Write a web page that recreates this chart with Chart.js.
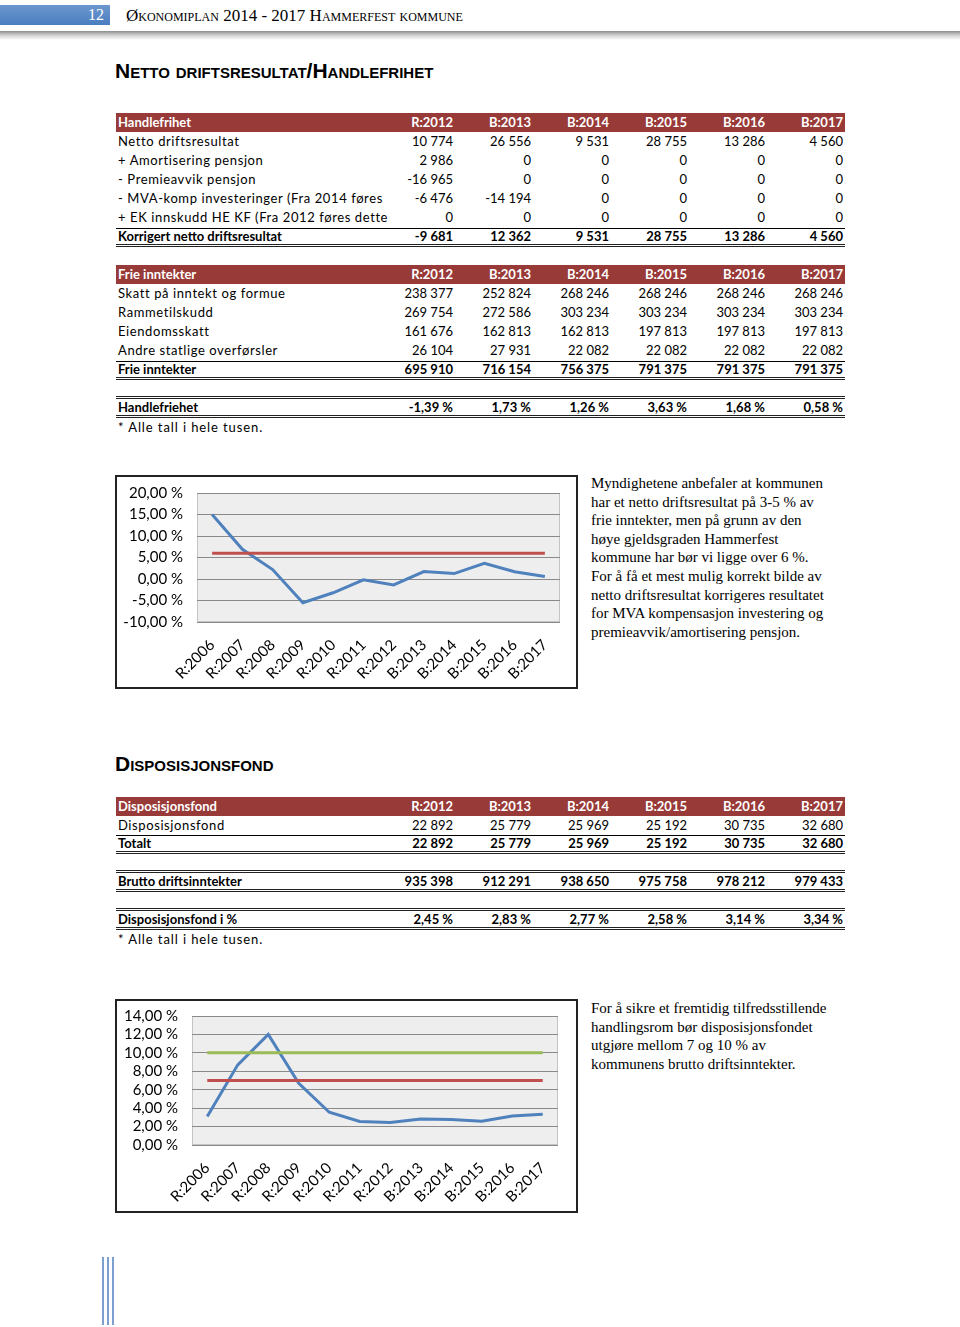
<!DOCTYPE html>
<html>
<head>
<meta charset="utf-8">
<script src="https://cdn.jsdelivr.net/npm/chart.js@4.4.0/dist/chart.umd.min.js"></script>
<style>
  body { margin: 0; background: #fff; width: 960px; height: 1327px; position: relative; overflow: hidden; font-family: Lato, "Noto Sans", sans-serif; }
  .abs { position: absolute; }
  .pagebox { left: 0; top: 5px; width: 110px; height: 20px; background: linear-gradient(#6d97cf, #4a7ebf); }
  .pagenum { left: 80px; top: 5px; width: 24px; height: 20px; color: #fff; font: 16px "Liberation Serif", serif; line-height: 20px; text-align: right; }
  .header { left: 126px; top: 5px; font: 17px "Liberation Serif", serif; font-variant: small-caps; line-height: 21px; color: #000; }
  .shadow { left: 0; top: 31px; width: 960px; height: 9px; background: linear-gradient(#8c8c8c, #cfcfcf 45%, #fff); }
  .title { left: 115px; font: bold 21px "Liberation Sans Narrow", "Liberation Sans", sans-serif; font-variant: small-caps; color: #000; }
  .row { left: 116px; width: 729px; height: 19px; display: flex; font-size: 13px; line-height: 19px; box-sizing: content-box; }
  .row div { width: 78px; text-align: right; padding-right: 2px; box-sizing: border-box; white-space: nowrap; }
  .row div:first-child { width: 261px; text-align: left; padding-left: 2px; overflow: visible; }
  .head { background: #973a38; color: #fff; font-weight: bold; }
  .plain div:first-child { letter-spacing: 0.6px; }
  .bold { font-weight: bold; }
  .tline { border-top: 1px solid #000; height: 15px; line-height: 15px; }
  .dtop { border-top: 3px double #222; height: 16px; line-height: 16px; }
  .dbot { border-bottom: 3px double #222; }
  .note { left: 118px; font-size: 13px; letter-spacing: 0.9px; }
  .box { border: 2px solid #222; box-sizing: border-box; width: 463px; height: 214px; left: 115px; }
  .box canvas { position: absolute; left: 0; top: 0; }
  .txt { left: 591px; font: 15px "Liberation Serif", serif; line-height: 18.6px; color: #000; }
  .vl { top: 1257px; width: 2px; height: 68px; background: #7d9fd0; }
</style>
</head>
<body>
<div class="abs pagebox"></div>
<div class="abs pagenum">12</div>
<div class="abs header">Økonomiplan 2014 - 2017 Hammerfest kommune</div>
<div class="abs shadow"></div>

<div class="abs title" style="top:59px">Netto driftsresultat/Handlefrihet</div>
<div id="tables"></div>

<div class="abs box" style="top:475px"><canvas id="chartHandle" width="459" height="210"></canvas></div>
<div class="abs txt" style="top:474px">Myndighetene anbefaler at kommunen<br>har et netto driftsresultat på 3-5 % av<br>frie inntekter, men på grunn av den<br>høye gjeldsgraden Hammerfest<br>kommune har bør vi ligge over 6 %.<br>For å få et mest mulig korrekt bilde av<br>netto driftsresultat korrigeres resultatet<br>for MVA kompensasjon investering og<br>premieavvik/amortisering pensjon.</div>

<div class="abs title" style="top:752px">Disposisjonsfond</div>

<div class="abs box" style="top:999px"><canvas id="chartDisp" width="459" height="210"></canvas></div>
<div class="abs txt" style="top:999px">For å sikre et fremtidig tilfredsstillende<br>handlingsrom bør disposisjonsfondet<br>utgjøre mellom 7 og 10 % av<br>kommunens brutto driftsinntekter.</div>

<div class="abs vl" style="left:102px"></div>
<div class="abs vl" style="left:107px"></div>
<div class="abs vl" style="left:112px"></div>

<script>
// Tabell-kolonner
const yearCols = ['R:2012', 'B:2013', 'B:2014', 'B:2015', 'B:2016', 'B:2017'];

// Handlefrihet
const nettoDrift = ['10 774', '26 556', '9 531', '28 755', '13 286', '4 560'];
const amortisering = ['2 986', '0', '0', '0', '0', '0'];
const premieavvik = ['-16 965', '0', '0', '0', '0', '0'];
const mvaKomp = ['-6 476', '-14 194', '0', '0', '0', '0'];
const ekInnskudd = ['0', '0', '0', '0', '0', '0'];
const korrigert = ['-9 681', '12 362', '9 531', '28 755', '13 286', '4 560'];

// Frie inntekter
const skatt = ['238 377', '252 824', '268 246', '268 246', '268 246', '268 246'];
const rammetilskudd = ['269 754', '272 586', '303 234', '303 234', '303 234', '303 234'];
const eiendomsskatt = ['161 676', '162 813', '162 813', '197 813', '197 813', '197 813'];
const andreOverf = ['26 104', '27 931', '22 082', '22 082', '22 082', '22 082'];
const frieInntekter = ['695 910', '716 154', '756 375', '791 375', '791 375', '791 375'];
const handlefrihetPst = ['-1,39 %', '1,73 %', '1,26 %', '3,63 %', '1,68 %', '0,58 %'];

// Disposisjonsfond
const dispFond = ['22 892', '25 779', '25 969', '25 192', '30 735', '32 680'];
const bruttoDrift = ['935 398', '912 291', '938 650', '975 758', '978 212', '979 433'];
const dispPst = ['2,45 %', '2,83 %', '2,77 %', '2,58 %', '3,14 %', '3,34 %'];

// Diagramdata
const chartYears = ['R:2006', 'R:2007', 'R:2008', 'R:2009', 'R:2010', 'R:2011', 'R:2012', 'B:2013', 'B:2014', 'B:2015', 'B:2016', 'B:2017'];
const handlefrihetSerie = [15.0, 6.9, 2.2, -5.5, -3.2, -0.2, -1.39, 1.73, 1.26, 3.63, 1.68, 0.58];
const anbefaltHandle = [6, 6, 6, 6, 6, 6, 6, 6, 6, 6, 6, 6];
const dispSerie = [3.1, 8.7, 12.0, 6.7, 3.55, 2.55, 2.45, 2.83, 2.77, 2.58, 3.14, 3.34];
const dispMin = [7, 7, 7, 7, 7, 7, 7, 7, 7, 7, 7, 7];
const dispMax = [10, 10, 10, 10, 10, 10, 10, 10, 10, 10, 10, 10];

const tables = document.getElementById('tables');
function addRow(top, label, values, cls) {
    const row = document.createElement('div');
    row.className = 'abs row ' + cls;
    row.style.top = top + 'px';
    [label].concat(values).forEach(v => {
        const c = document.createElement('div');
        c.textContent = v;
        row.appendChild(c);
    });
    tables.appendChild(row);
}
function addNote(top) {
    const n = document.createElement('div');
    n.className = 'abs note';
    n.style.top = top + 'px';
    n.style.lineHeight = '19px';
    n.textContent = '* Alle tall i hele tusen.';
    tables.appendChild(n);
}

addRow(113, 'Handlefrihet', yearCols, 'head');
addRow(132, 'Netto driftsresultat', nettoDrift, 'plain');
addRow(151, '+ Amortisering pensjon', amortisering, 'plain');
addRow(170, '- Premieavvik pensjon', premieavvik, 'plain');
addRow(189, '- MVA-komp investeringer (Fra 2014 føres', mvaKomp, 'plain');
addRow(208, '+ EK innskudd HE KF (Fra 2012 føres dette', ekInnskudd, 'plain');
addRow(227.5, 'Korrigert netto driftsresultat', korrigert, 'bold tline dbot');

addRow(265, 'Frie inntekter', yearCols, 'head');
addRow(284, 'Skatt på inntekt og formue', skatt, 'plain');
addRow(303, 'Rammetilskudd', rammetilskudd, 'plain');
addRow(322, 'Eiendomsskatt', eiendomsskatt, 'plain');
addRow(341, 'Andre statlige overførsler', andreOverf, 'plain');
addRow(360.5, 'Frie inntekter', frieInntekter, 'bold tline dbot');
addRow(396, 'Handlefriehet', handlefrihetPst, 'bold dtop dbot');
addNote(418);

addRow(797, 'Disposisjonsfond', yearCols, 'head');
addRow(816, 'Disposisjonsfond', dispFond, 'plain');
addRow(834.5, 'Totalt', dispFond, 'bold tline dbot');
addRow(870, 'Brutto driftsinntekter', bruttoDrift, 'bold dtop dbot');
addRow(908, 'Disposisjonsfond i %', dispPst, 'bold dtop dbot');
addNote(930);

// Grå bakgrunn i plottområdet
const plotBg = {
    id: 'plotBg',
    beforeDraw(chart) {
        const { ctx, chartArea: a } = chart;
        ctx.save();
        ctx.fillStyle = '#eeeeee';
        ctx.fillRect(a.left, a.top, a.width, a.height);
        ctx.strokeStyle = '#c4c4c4';
        ctx.lineWidth = 1;
        ctx.strokeRect(a.left + 0.5, a.top + 0.5, a.width - 1, a.height - 1);
        ctx.restore();
    }
};

const pct = v => v.toFixed(2).replace('.', ',') + ' %';

function makeChart(id, datasets, yMin, yMax, step, pad, yWidth, xHeight) {
    new Chart(document.getElementById(id), {
        type: 'line',
        data: { labels: chartYears, datasets: datasets },
        options: {
            responsive: false,
            animation: false,
            devicePixelRatio: 1,
            layout: { padding: pad },
            plugins: { legend: { display: false }, tooltip: { enabled: false } },
            elements: { point: { radius: 0 }, line: { tension: 0, borderWidth: 3 } },
            scales: {
                x: {
                    offset: true,
                    grid: { display: false },
                    border: { display: false },
                    ticks: {
                        color: '#000', font: { family: 'Lato', size: 15 },
                        maxRotation: 45, minRotation: 45, autoSkip: false, padding: 6
                    },
                    afterFit: s => { s.height = xHeight; s.paddingLeft = 0; s.paddingRight = 0; }
                },
                y: {
                    min: yMin, max: yMax,
                    grid: { color: '#8a8a8a', lineWidth: 1, drawTicks: false },
                    border: { display: false },
                    ticks: {
                        stepSize: step, color: '#000', padding: 14, autoSkip: false,
                        font: { family: 'Lato', size: 15 },
                        callback: v => pct(v)
                    },
                    afterFit: s => { s.width = yWidth; s.paddingTop = 0; s.paddingBottom = 0; }
                }
            }
        },
        plugins: [plotBg]
    });
}

makeChart('chartHandle', [
    { data: anbefaltHandle, borderColor: '#c0504d' },
    { data: handlefrihetSerie, borderColor: '#4f81bd' }
], -10, 20, 5, { top: 16, right: 16, left: 0, bottom: 0 }, 80, 65);

makeChart('chartDisp', [
    { data: dispMax, borderColor: '#9bbb59' },
    { data: dispMin, borderColor: '#c0504d' },
    { data: dispSerie, borderColor: '#4f81bd' }
], 0, 14, 2, { top: 15, right: 18, left: 0, bottom: 0 }, 75, 66);
</script>
</body>
</html>
